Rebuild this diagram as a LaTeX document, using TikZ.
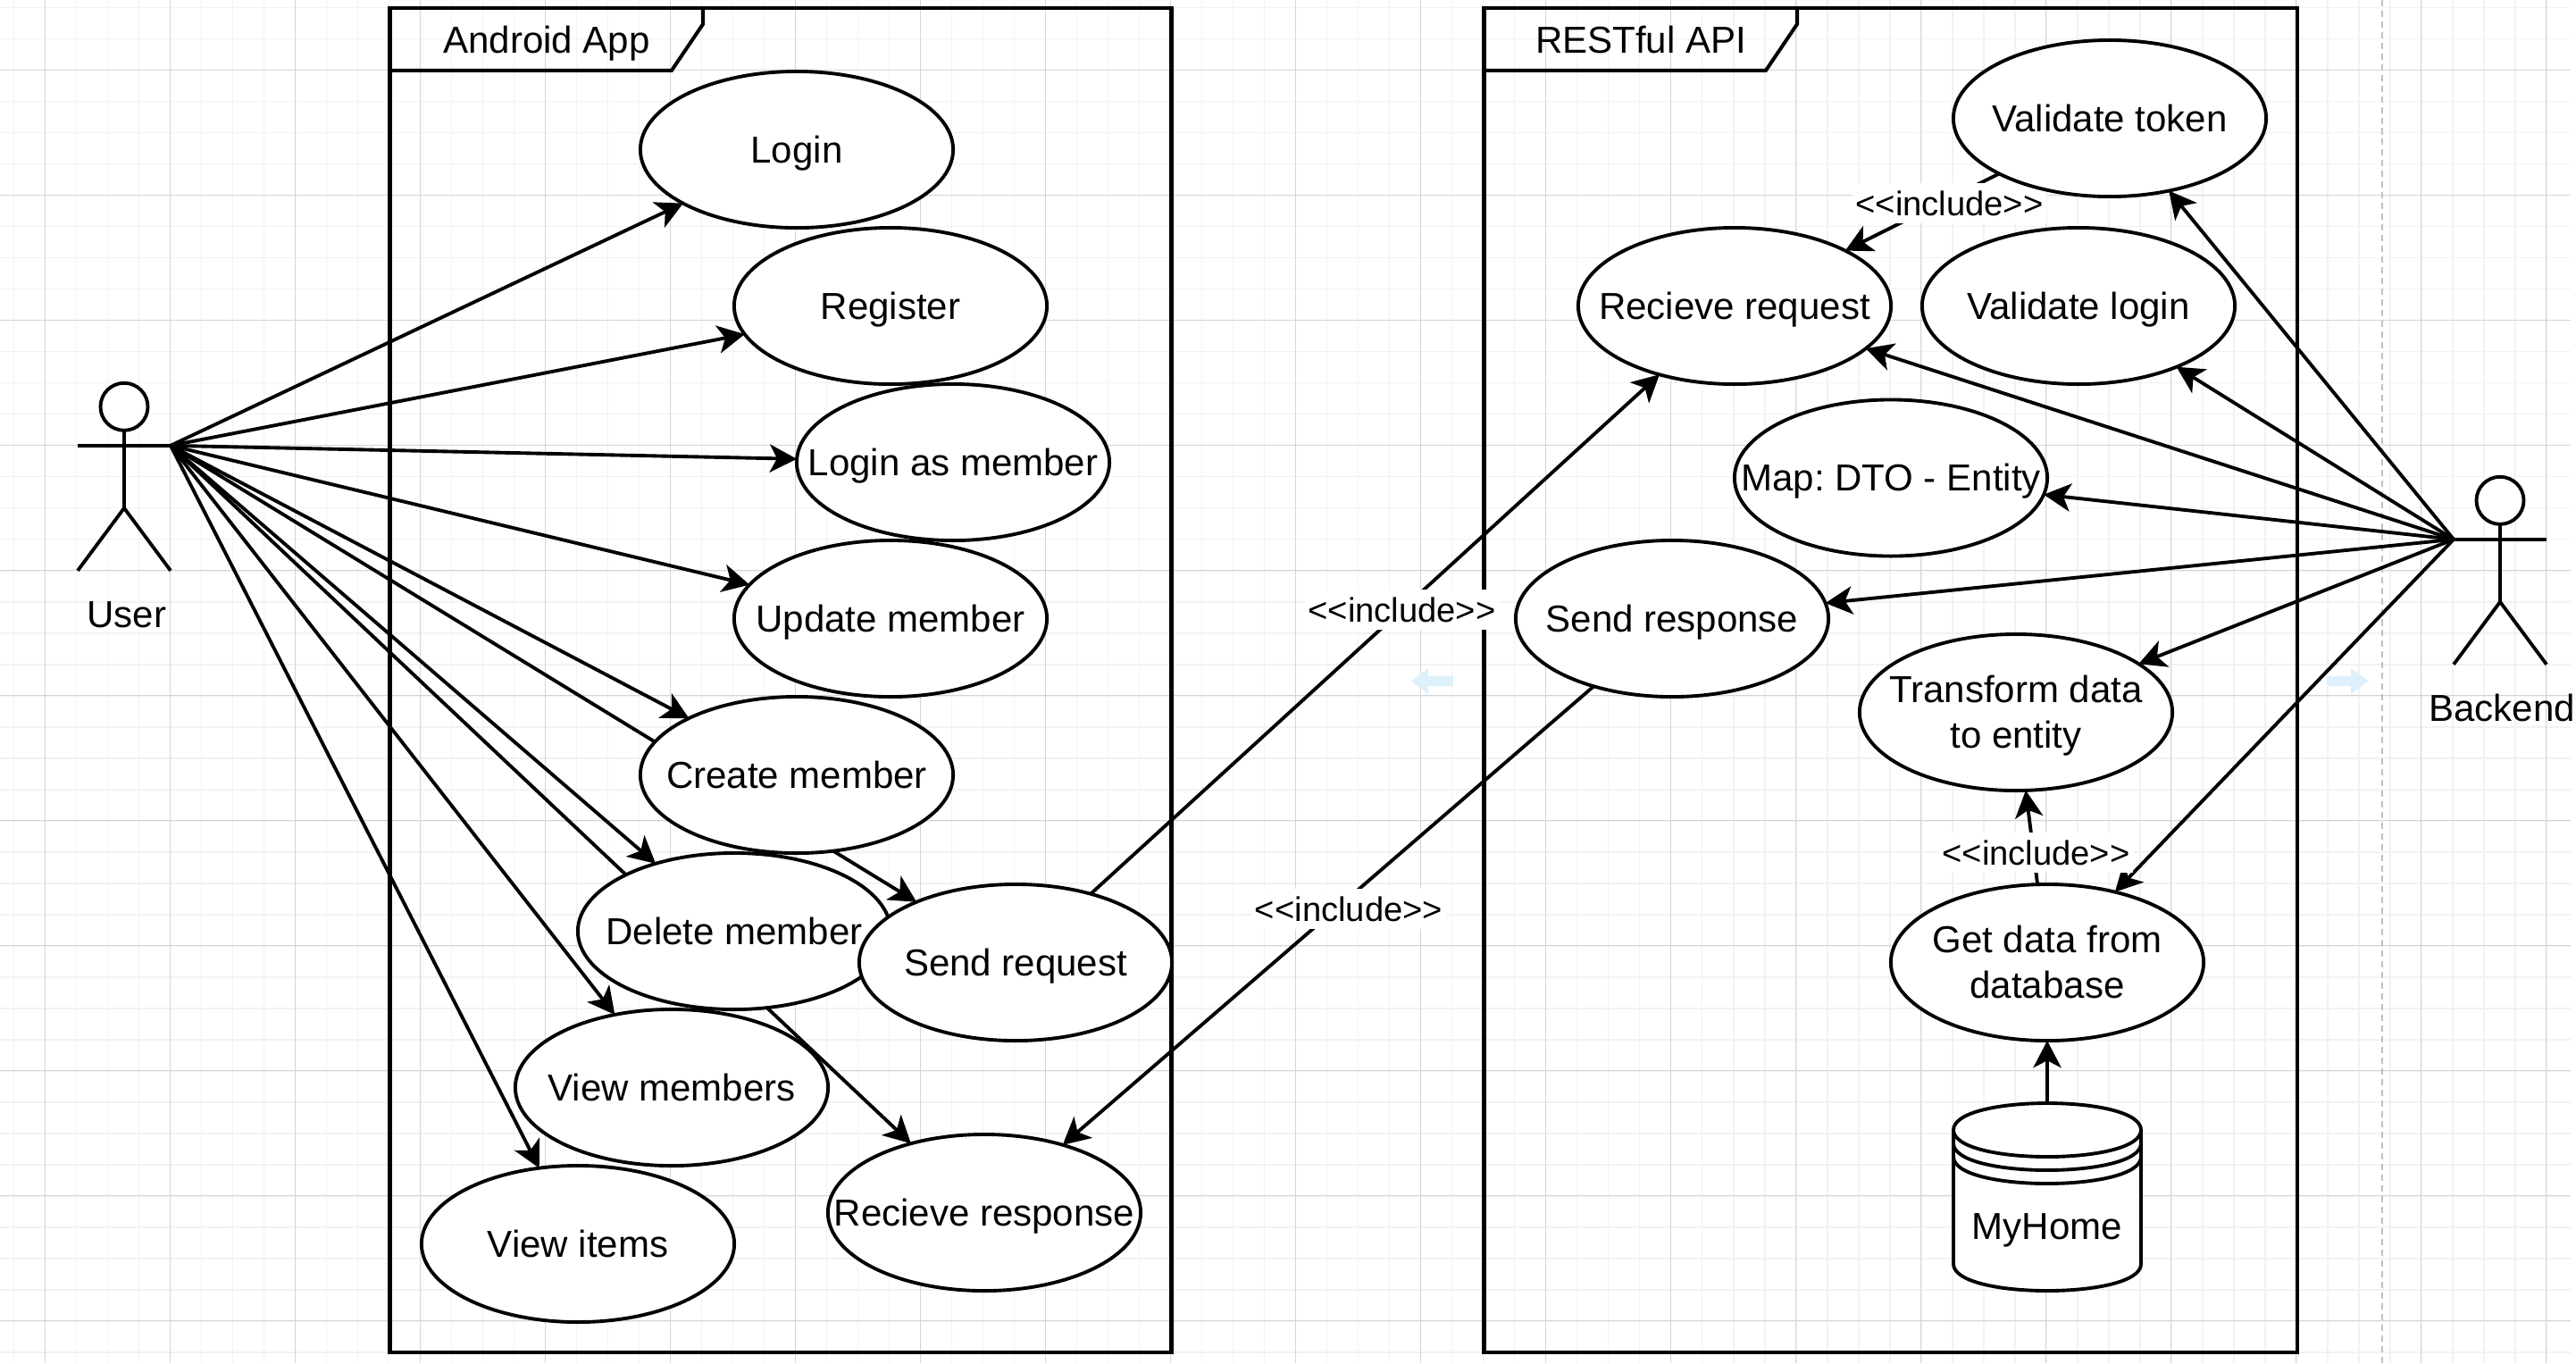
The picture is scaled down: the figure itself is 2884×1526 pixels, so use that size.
\documentclass[tikz,border=0pt]{standalone}
\usepackage{fontspec}
\setmainfont{Liberation Sans}
\usetikzlibrary{shapes.geometric,arrows.meta,backgrounds}
\definecolor{gridmajor}{HTML}{D4D4D4}
\definecolor{gridminor}{HTML}{F2F2F2}
\definecolor{pagebreak}{HTML}{C0C0C0}
\definecolor{hintblue}{HTML}{DDF0FB}
\begin{document}
\begin{tikzpicture}[
    x=0.01cm, y=-0.01cm,
    >={Stealth[length=8.6pt,width=8.9pt,inset=2.3pt]},
    usecase/.style={draw, ellipse, fill=white, line width=1.1pt, minimum width=3.5cm,
                    minimum height=1.75cm, inner xsep=-1cm, inner ysep=-0.6cm, outer sep=0pt,
                    align=center, text height=10.8pt, text depth=2.52pt,
                    font=\fontsize{11.95}{14.6}\selectfont},
    twolines/.style={text height=, text depth=0.4pt},
    boundary/.style={draw, line width=1.15pt},
    title/.style={text height=10.8pt, text depth=2.52pt, font=\fontsize{11.95}{14.6}\selectfont},
    actorline/.style={draw, line width=1.1pt},
    actorhead/.style={draw, ellipse, fill=white, line width=1.1pt, minimum width=0.53cm,
                      minimum height=0.53cm, inner sep=0pt, outer sep=0pt},
    assoc/.style={->, line width=1.1pt},
    incl/.style={fill=white, inner xsep=1pt, inner ysep=0pt, minimum height=0.45cm,
                 font=\fontsize{10.85}{13}\selectfont},
    store/.style={draw, fill=white, line width=1.1pt},
    storebox/.style={minimum width=2.1cm, minimum height=2.1cm, inner sep=0pt, outer sep=0pt},
    hint/.style={fill=hintblue}
]
\useasboundingbox (0,0) rectangle (2884,1526);

% Use cases, Android App
\node[usecase] (login)    at (892,167.5)   {Login};
\node[usecase] (register) at (997,342.5)   {Register};
\node[usecase] (loginmem) at (1067,517.5)  {Login as member};
\node[usecase] (update)   at (997,692.5)   {Update member};
\node[usecase] (create)   at (892,867.5)   {Create member};
\node[usecase] (delete)   at (822,1042.5)  {Delete member};
\node[usecase] (sendreq)  at (1137,1077.5) {Send request};
\node[usecase] (viewmem)  at (752,1217.5)  {View members};
\node[usecase] (viewitem) at (647,1392.5)  {View items};
\node[usecase] (recresp)  at (1102,1357.5) {Recieve response};

% Use cases, RESTful API
\node[usecase] (token)     at (2362,132.5)  {Validate token};
\node[usecase] (recreq)    at (1942,342.5)  {Recieve request};
\node[usecase] (vlogin)    at (2327,342.5)  {Validate login};
\node[usecase] (mapdto)    at (2117,535)    {Map:\ DTO - Entity};
\node[usecase] (sendresp)  at (1872,692.5)  {Send response};
\node[usecase,twolines] (transform) at (2257,797.5) {Transform data\\to entity};
\node[usecase,twolines] (getdata)   at (2292,1077.5) {Get data from\\database};

% Database
\node[storebox] (db) at (2292,1340) {};
\draw[store] (2187,1265) .. controls (2187,1225) and (2397,1225) .. (2397,1265)
    -- (2397,1415) .. controls (2397,1455) and (2187,1455) .. (2187,1415) -- cycle;
\foreach \s in {0,15,30} {
    \draw[store, fill=none] (2187,1265+\s) .. controls (2187,1305+\s) and (2397,1305+\s) .. (2397,1265+\s);
}
\node[title] (dbname) at (2292,1372.5) {MyHome};

% Actors
\foreach \nm/\cx/\cy/\dx/\txt in {user/139/428.3/3/User, backend/2799/533.3/2/Backend} {
    \node[actorhead] (\nm-head) at (\cx,\cy+27) {};
    \draw[actorline] (\nm-head) -- (\cx,\cy+140.5);
    \draw[actorline] (\cx-52,\cy+70.5) -- (\cx+52,\cy+70.5);
    \draw[actorline] (\cx-52,\cy+210.5) -- (\cx,\cy+140.5) -- (\cx+52,\cy+210.5);
    \node[title] (\nm-name) at (\cx+\dx,\cy+259.5) {\txt};
}
\coordinate (userarm) at (191,498.8);
\coordinate (backendarm) at (2747,603.8);

\begin{scope}[on background layer]
% Grid
\foreach \x in {15.6,50.6,...,2878} {
    \draw[gridminor, line width=0.5pt] (\x,0) -- (\x,1526);
}
\foreach \y in {8.6,43.6,...,1526} {
    \draw[gridminor, line width=0.5pt] (0,\y) -- (2878,\y);
}
\foreach \x in {50.6,190.6,...,2878} {
    \draw[gridmajor, line width=0.35pt] (\x,0) -- (\x,1526);
}
\foreach \y in {78.6,218.6,...,1526} {
    \draw[gridmajor, line width=0.35pt] (0,\y) -- (2878,\y);
}
\draw[pagebreak, line width=0.55pt, dash pattern=on 2pt off 1.4pt] (2667,0) -- (2667,1526);
\fill[hint] (1580,762.5) -- (1599,748) -- (1599,757) -- (1627,757) -- (1627,768) -- (1599,768) -- (1599,777) -- cycle;
\fill[hint] (2652,762.5) -- (2632,748) -- (2632,757) -- (2605,757) -- (2605,768) -- (2632,768) -- (2632,777) -- cycle;

% Boundaries
\draw[boundary] (436.5,8.8) rectangle (1311.5,1513.8);
\draw[boundary] (436.5,78.8) -- (752,78.8) -- (787,27) -- (787,8.8);
\node[title] (android) at (612,45) {Android App};
\draw[boundary] (1661.5,8.8) rectangle (2571.5,1513.8);
\draw[boundary] (1661.5,78.8) -- (1977,78.8) -- (2012,27) -- (2012,8.8);
\node[title] (restful) at (1837,45) {RESTful API};

% Associations
\foreach \t in {login,register,loginmem,update,create,sendreq,delete,recresp,viewmem,viewitem} {
    \draw[assoc] (userarm) -- (\t);
}
\foreach \t in {token,vlogin,recreq,mapdto,sendresp,transform,getdata} {
    \draw[assoc] (backendarm) -- (\t);
}
\draw[assoc] (db) -- (getdata);

% Includes
\draw[assoc] (sendreq) -- (recreq);
\draw[assoc] (sendresp) -- (recresp);
\draw[assoc] (token) -- (recreq);
\draw[assoc] (getdata) -- (transform);
\node[incl] (incla) at (1569.5,682.5) {<{}<include>{}>};
\node[incl] (inclb) at (1510,1017.5) {<{}<include>{}>};
\node[incl] (inclc) at (2182.5,227.5) {<{}<include>{}>};
\node[incl] (incld) at (2279.5,954.5) {<{}<include>{}>};
\end{scope}

\end{tikzpicture}
\end{document}
